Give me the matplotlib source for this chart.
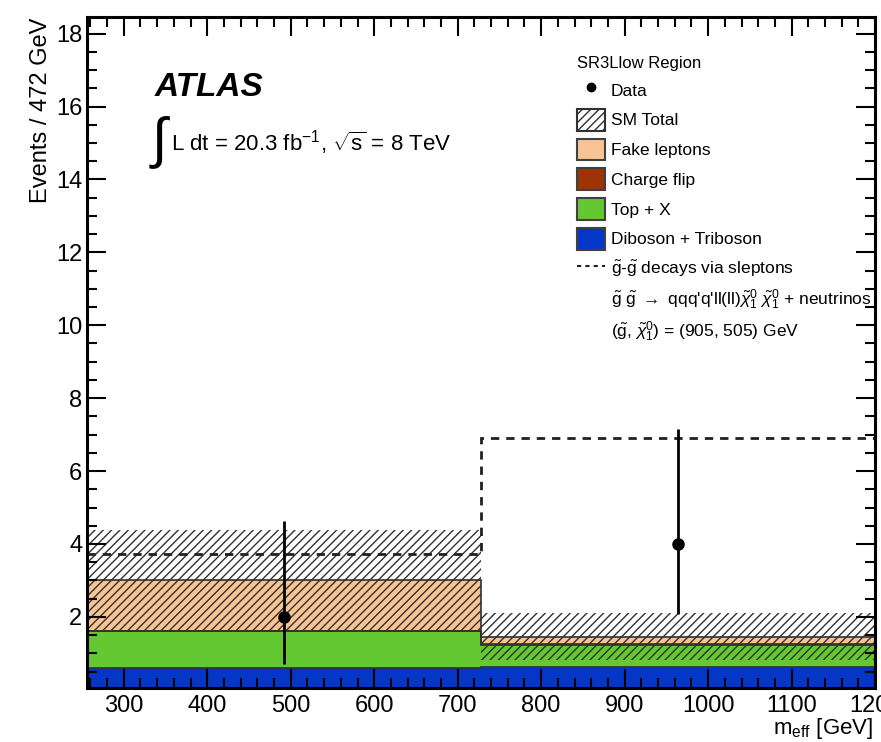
import numpy as np
import matplotlib
matplotlib.use('Agg')
import matplotlib.pyplot as plt
from matplotlib.patches import Patch
from matplotlib.lines import Line2D
from matplotlib.ticker import MultipleLocator

plt.rcParams['font.family'] = ['Liberation Sans', 'DejaVu Sans']
plt.rcParams['mathtext.fontset'] = 'custom'
plt.rcParams['mathtext.rm'] = 'Liberation Sans'
plt.rcParams['mathtext.it'] = 'Liberation Sans:italic'
plt.rcParams['mathtext.bf'] = 'Liberation Sans:bold'
plt.rcParams['hatch.linewidth'] = 1.0

# binning in m_eff [GeV]
edges = np.array([256, 728, 1200])

# stacked backgrounds (events per bin)
diboson = np.array([0.60, 0.63])
topx = np.array([1.00, 0.60])
chargeflip = np.array([0.00, 0.02])
fake = np.array([1.42, 0.20])

# SM total uncertainty band
sm_low = np.array([1.64, 0.82])
sm_high = np.array([4.39, 2.11])

# signal: gluino pair, decays via sleptons
signal = np.array([3.72, 6.91])

# data with poisson errors
data = np.array([2, 4])
data_lo = np.array([1.29, 1.91])
data_hi = np.array([2.64, 3.16])

fig = plt.figure(figsize=(8.81, 7.42), dpi=100)
ax = fig.add_axes([0.0988, 0.0728, 0.8945, 0.904])

# stack
base = np.zeros(2)
for vals, col in [(diboson, '#0636c8'), (topx, '#64c832'),
                  (chargeflip, '#9c3304'), (fake, '#f8c494')]:
    ax.stairs(base + vals, edges, baseline=base, fill=True, color=col, zorder=2)
    ax.stairs(base + vals, edges, baseline=None, color='#303030', lw=1.2, zorder=3)
    base = base + vals

# SM uncertainty
ax.stairs(sm_high, edges, baseline=sm_low, fill=True, facecolor='none',
          edgecolor='#303030', hatch='////', lw=0, zorder=4)

# signal
ax.stairs(signal, edges, baseline=None, color='#202020', lw=2,
          linestyle=(0, (3, 2.5)), zorder=5)

# data
centers = 0.5 * (edges[:-1] + edges[1:])
ax.errorbar(centers, data, yerr=[data_lo, data_hi], fmt='o', color='black',
            ms=8, elinewidth=2, capsize=0, zorder=6)

ax.set_xlim(256, 1200)
ax.set_ylim(0.05, 18.45)
ax.xaxis.set_major_locator(MultipleLocator(100))
ax.xaxis.set_minor_locator(MultipleLocator(20))
ax.yaxis.set_minor_locator(MultipleLocator(0.5))
ax.set_yticks(np.arange(2, 19, 2))
ax.tick_params(which='both', direction='in', top=True, right=True,
               width=1.5, labelsize=17)
ax.tick_params(which='major', length=14)
ax.tick_params(which='minor', length=7)
ax.tick_params(axis='x', pad=5)
ax.xaxis.set_zorder(9)
ax.yaxis.set_zorder(9)
for s in ax.spines.values():
    s.set_linewidth(2.2)
    s.set_zorder(10)

ax.set_ylabel('Events / 472 GeV', fontsize=17, loc='top')
ax.set_xlabel(r'm$_{\rm eff}$ [GeV]', fontsize=16, loc='right')
ax.yaxis.set_label_coords(-0.045, 1.0)
ax.xaxis.set_label_coords(0.997, -0.042)

ax.text(0.086, 0.882, 'ATLAS', transform=ax.transAxes, fontsize=24,
        fontweight='bold', fontstyle='italic')
ax.text(0.079, 0.792, r'$\int$', transform=ax.transAxes, fontsize=40,
        family='DejaVu Sans')
ax.text(0.106, 0.801, r'L dt = 20.3 fb$^{-1}$, $\sqrt{\rm s}$ = 8 TeV',
        transform=ax.transAxes, fontsize=16)

handles = [
    Line2D([], [], marker='o', color='black', linestyle='none', ms=6),
    Patch(facecolor='white', edgecolor='#303030', hatch='////', lw=1.5),
    Patch(facecolor='#f8c494', edgecolor='#404040', lw=1.5),
    Patch(facecolor='#9c3304', edgecolor='#404040', lw=1.5),
    Patch(facecolor='#64c832', edgecolor='#404040', lw=1.5),
    Patch(facecolor='#0636c8', edgecolor='#404040', lw=1.5),
    Line2D([], [], color='#202020', lw=1.5, linestyle=(0, (2, 2))),
    Line2D([], [], linestyle='none'),
    Line2D([], [], linestyle='none'),
]
labels = [
    'Data', 'SM Total', 'Fake leptons', 'Charge flip', 'Top + X',
    'Diboson + Triboson',
    r'$\tilde{\rm g}$-$\tilde{\rm g}$ decays via sleptons',
    r"$\tilde{\rm g}\ \tilde{\rm g}$ $\rightarrow$ qqq'q'll(ll)$\tilde{\chi}_1^0\ \tilde{\chi}_1^0$ + neutrinos",
    r'($\tilde{\rm g}$, $\tilde{\chi}_1^0$) = (905, 505) GeV',
]
leg = ax.legend(handles, labels, loc='upper left', bbox_to_anchor=(0.622, 0.942),
                frameon=False, fontsize=12.5, title='SR3Llow Region',
                title_fontsize=12, alignment='left', handlelength=1.6,
                handleheight=1.55, handletextpad=0.35, labelspacing=0.46,
                borderaxespad=0, borderpad=0)

fig.savefig('out.png', dpi=100)
